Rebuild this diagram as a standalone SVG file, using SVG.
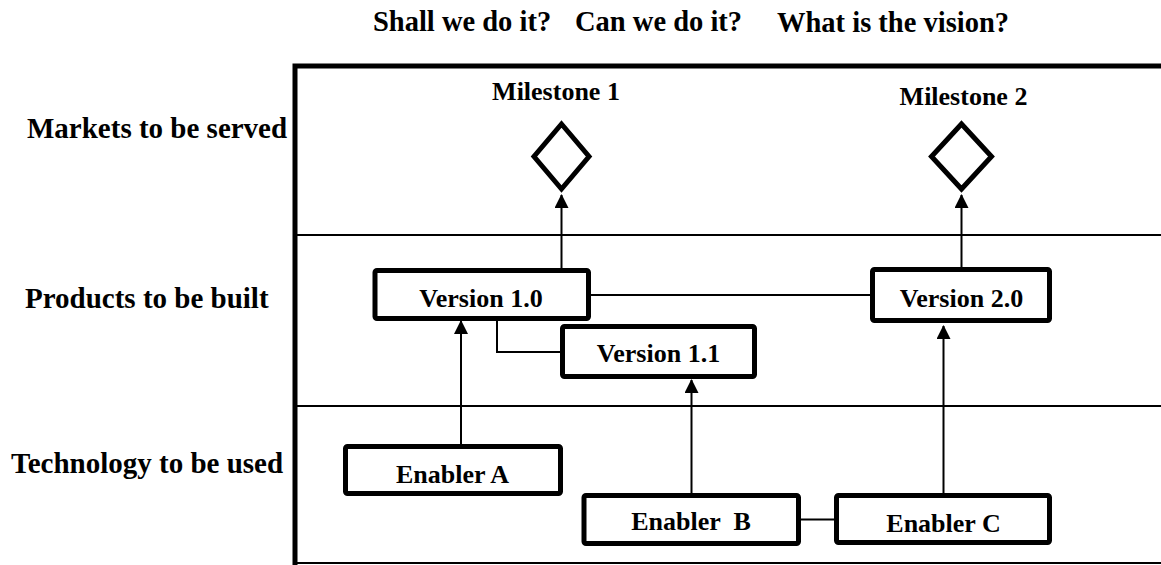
<svg xmlns="http://www.w3.org/2000/svg" width="1161" height="565" viewBox="0 0 1161 565">
  <style>
    text { font-family: "Liberation Serif", "Times New Roman", serif; font-weight: bold; fill: #000; }
    .hdr { font-size: 28.5px; }
    .lane { font-size: 29px; }
    .lbl { font-size: 26px; text-anchor: middle; white-space: pre; }
    .box { fill: #fff; stroke: #000; stroke-width: 5; }
    .ms { fill: #fff; stroke: #000; stroke-width: 5; stroke-linejoin: miter; }
    .frame { stroke: #000; stroke-width: 5; fill: none; }
    .rule { stroke: #000; stroke-width: 2; fill: none; }
    .link { stroke: #000; stroke-width: 2; fill: none; }
  </style>
  <defs>
    <marker id="arrow" markerUnits="userSpaceOnUse" markerWidth="14" markerHeight="14" viewBox="0 0 14 14" refX="13" refY="7" orient="auto">
      <path d="M0,0 L14,7 L0,14 Z" fill="#000"/>
    </marker>
  </defs>
  <rect width="1161" height="565" fill="#fff"/>

  <!-- column questions -->
  <g id="questions">
    <text class="hdr" x="373" y="31">Shall we do it?</text>
    <text class="hdr" x="575" y="31">Can we do it?</text>
    <text class="hdr" x="777" y="32">What is the vision?</text>
  </g>

  <!-- swimlane labels -->
  <g id="lanes">
    <text class="lane" x="27" y="138">Markets to be served</text>
    <text class="lane" x="25" y="308">Products to be built</text>
    <text class="lane" x="11" y="473">Technology to be used</text>
  </g>

  <!-- frame and lane dividers -->
  <g id="frame">
    <path class="frame" d="M295,565 V66 H1161"/>
    <line class="rule" x1="295" y1="235" x2="1161" y2="235"/>
    <line class="rule" x1="295" y1="406" x2="1161" y2="406"/>
    <line class="rule" x1="295" y1="563" x2="1161" y2="563"/>
  </g>

  <!-- connectors -->
  <g id="connectors">
    <line class="link" x1="561.5" y1="268" x2="561.5" y2="195" marker-end="url(#arrow)"/>
    <line class="link" x1="961.5" y1="267" x2="961.5" y2="195" marker-end="url(#arrow)"/>
    <line class="link" x1="461" y1="444" x2="461" y2="321" marker-end="url(#arrow)"/>
    <line class="link" x1="691.5" y1="493" x2="691.5" y2="380" marker-end="url(#arrow)"/>
    <line class="link" x1="943.5" y1="493" x2="943.5" y2="326" marker-end="url(#arrow)"/>
    <line class="link" x1="591" y1="295" x2="870" y2="295"/>
    <path class="link" d="M497,321 V352 H560"/>
    <line class="link" x1="801" y1="519.5" x2="834" y2="519.5"/>
  </g>

  <!-- milestones -->
  <g id="milestone1">
    <text class="lbl" x="556" y="100">Milestone 1</text>
    <path class="ms" d="M561.5,124 L589,156.5 L561.5,189 L534,156.5 Z"/>
  </g>
  <g id="milestone2">
    <text class="lbl" x="963.5" y="105">Milestone 2</text>
    <path class="ms" d="M961.5,124 L991.5,156.5 L961.5,189 L931.5,156.5 Z"/>
  </g>

  <!-- products -->
  <g id="version10">
    <rect class="box" x="375" y="270.5" width="213.5" height="48" rx="2"/>
    <text class="lbl" x="481" y="307">Version 1.0</text>
  </g>
  <g id="version11">
    <rect class="box" x="562.5" y="326.5" width="192" height="50" rx="2"/>
    <text class="lbl" x="658.5" y="362">Version 1.1</text>
  </g>
  <g id="version20">
    <rect class="box" x="872.5" y="269.5" width="177" height="51" rx="2"/>
    <text class="lbl" x="961.5" y="307">Version 2.0</text>
  </g>

  <!-- technology enablers -->
  <g id="enablerA">
    <rect class="box" x="345.5" y="446.5" width="215" height="47" rx="2"/>
    <text class="lbl" x="452.5" y="483">Enabler A</text>
  </g>
  <g id="enablerB">
    <rect class="box" x="584" y="495.5" width="214.5" height="48" rx="2"/>
    <text class="lbl" x="691" y="530" xml:space="preserve">Enabler  B</text>
  </g>
  <g id="enablerC">
    <rect class="box" x="836.5" y="495.5" width="213" height="47" rx="2"/>
    <text class="lbl" x="943.5" y="532">Enabler C</text>
  </g>
</svg>
